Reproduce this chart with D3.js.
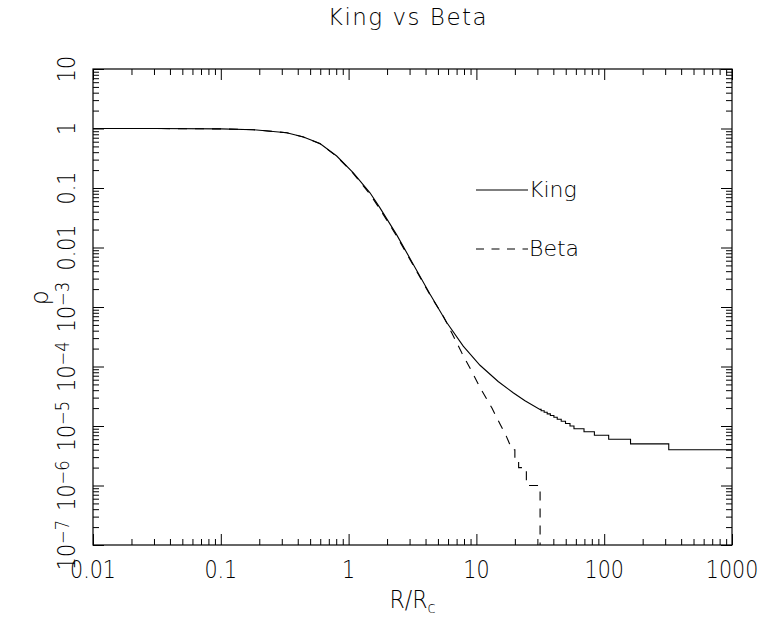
<!DOCTYPE html>
<html>
<head>
<meta charset="utf-8">
<script src="https://cdn.jsdelivr.net/npm/d3@7"></script>
<style>
  html, body { margin: 0; padding: 0; background: #fff; }
  svg { display: block; }
  text { font-family: "DejaVu Sans", sans-serif; font-weight: 200; fill: #000; }
</style>
</head>
<body>
<svg id="chart" width="765" height="621"></svg>
<script>
// ---------------- data ----------------
const titleText = "King vs Beta";
const xMajorTicks = [0.01, 0.1, 1, 10, 100, 1000];
const xTickLabels = ["0.01", "0.1", "1", "10", "100", "1000"];
const yMajorTicks = [1e-7, 1e-6, 1e-5, 1e-4, 1e-3, 0.01, 0.1, 1, 10];
const yTickBase = ["10", "10", "10", "10", "10", "0.01", "0.1", "1", "10"];
const yTickExp  = ["\u22127", "\u22126", "\u22125", "\u22124", "\u22123", "", "", "", ""];
const seriesNames = ["King", "Beta"];

// King profile: smooth part
const kingR   = [0.01, 0.03, 0.1, 0.18, 0.328, 0.443, 0.597, 0.807, 1.089, 1.47, 1.76, 2.38, 3.21, 4.33, 5.86, 7.89, 10.67, 14.8, 19.4, 24.0];
const kingRho = [1.0, 0.999, 0.985, 0.955, 0.85, 0.72, 0.56, 0.345, 0.18, 0.083, 0.0463, 0.0163, 5.2e-3, 1.65e-3, 5.5e-4, 2.2e-4, 1.05e-4, 5.6e-5, 3.63e-5, 2.66e-5];
// King profile: stepped (quantised) tail, each level holds until the next R
const kingTailR   = [31.4, 32.1, 33.9, 35.8, 37.9, 40.4, 42.9, 46.1, 49.8, 54.0, 58.0, 69.5, 83.8, 108.4, 160.7, 320, 1000];
const kingTailRho = [1.9e-5, 1.8e-5, 1.7e-5, 1.6e-5, 1.5e-5, 1.4e-5, 1.3e-5, 1.2e-5, 1.1e-5, 1.0e-5, 9e-6, 8e-6, 7e-6, 6e-6, 5e-6, 4e-6, 4e-6];

// Beta model: smooth part
const betaR   = [0.01, 0.03, 0.1, 0.18, 0.328, 0.443, 0.597, 0.807, 1.089, 1.47, 1.76, 2.38, 3.21, 4.33, 5.51, 6.41, 7.68, 9.19, 10.7, 13.2, 15.3, 17.0, 18.2];
const betaRho = [1.0, 0.999, 0.985, 0.955, 0.85, 0.72, 0.555, 0.34, 0.175, 0.079, 0.044, 0.0155, 5.0e-3, 1.6e-3, 7.0e-4, 3.68e-4, 1.70e-4, 8.3e-5, 4.4e-5, 2.02e-5, 1.08e-5, 7e-6, 5e-6];
// Beta model: stepped tail, final value 0 (drops off the plot)
const betaTailR   = [18.9, 20.0, 21.4, 24.6, 31.5];
const betaTailRho = [4e-6, 3e-6, 2e-6, 1e-6, 0];

// ---------------- layout ----------------
const svg = d3.select("#chart");
const L = 93, R = 732, T = 69, B = 545;
const majorLen = 11, minorLen = 6;
const sx = 0.86; // horizontal squeeze to mimic the tall plotter font

const x = d3.scaleLog().domain([0.01, 1000]).range([L, R]);
const y = d3.scaleLog().domain([1e-7, 10]).range([B, T]);

const xMinor = x.ticks().filter(v => !xMajorTicks.some(m => Math.abs(m - v) / m < 1e-6));
const yMinor = y.ticks().filter(v => !yMajorTicks.some(m => Math.abs(m - v) / m < 1e-6));

function addAxis(axisGen, transform) {
  const g = svg.append("g").attr("transform", transform).call(axisGen);
  g.select(".domain").remove();
  g.selectAll("text").remove();
  g.selectAll("line").attr("stroke", "#000").attr("stroke-width", 1);
  return g;
}
addAxis(d3.axisBottom(x).tickValues(xMajorTicks).tickSize(-majorLen).tickFormat(""), `translate(0,${B})`);
addAxis(d3.axisBottom(x).tickValues(xMinor).tickSize(-minorLen).tickFormat(""), `translate(0,${B})`);
addAxis(d3.axisTop(x).tickValues(xMajorTicks).tickSize(-majorLen).tickFormat(""), `translate(0,${T})`);
addAxis(d3.axisTop(x).tickValues(xMinor).tickSize(-minorLen).tickFormat(""), `translate(0,${T})`);
addAxis(d3.axisLeft(y).tickValues(yMajorTicks).tickSize(-majorLen).tickFormat(""), `translate(${L},0)`);
addAxis(d3.axisLeft(y).tickValues(yMinor).tickSize(-minorLen).tickFormat(""), `translate(${L},0)`);
addAxis(d3.axisRight(y).tickValues(yMajorTicks).tickSize(-majorLen).tickFormat(""), `translate(${R},0)`);
addAxis(d3.axisRight(y).tickValues(yMinor).tickSize(-minorLen).tickFormat(""), `translate(${R},0)`);

// frame
svg.append("rect").attr("x", L).attr("y", T).attr("width", R - L).attr("height", B - T)
  .attr("fill", "none").attr("stroke", "#000").attr("stroke-width", 1.2);

// x tick labels
svg.append("g").selectAll("text").data(xMajorTicks).join("text")
  .attr("transform", d => `translate(${x(d)},578) scale(${sx},1)`)
  .attr("text-anchor", "middle").attr("font-size", 24)
  .text((d, i) => xTickLabels[i]);

// y tick labels (rotated, reading upwards)
const yl = svg.append("g").selectAll("text").data(yMajorTicks).join("text")
  .attr("text-anchor", "middle").attr("font-size", 24)
  .attr("transform", d => `translate(75,${y(d)}) rotate(-90) scale(${sx},1)`);
yl.each(function(d, i) {
  const t = d3.select(this);
  t.append("tspan").text(yTickBase[i]);
  if (yTickExp[i]) t.append("tspan").attr("font-size", 19).attr("dy", -6).text(yTickExp[i]);
});

// title
svg.append("text").attr("x", 408).attr("y", 25).attr("text-anchor", "middle")
  .attr("font-size", 23).attr("letter-spacing", 1.5).text(titleText);

// x axis label R/R_c
const xl = svg.append("text").attr("transform", `translate(${(L + R) / 2},608) scale(0.92,1)`)
  .attr("text-anchor", "middle").attr("font-size", 24);
xl.append("tspan").text("R/R");
xl.append("tspan").attr("font-size", 16).attr("dy", 5).text("c");

// y axis label rho
svg.append("text").attr("transform", `translate(48,298) rotate(-90)`)
  .attr("text-anchor", "middle").attr("font-size", 24).text("\u03c1");

// ---------------- curves ----------------
svg.append("clipPath").attr("id", "plotclip").append("rect")
  .attr("x", L).attr("y", T).attr("width", R - L).attr("height", B - T);

function buildPoints(rs, vals, tailR, tailV) {
  const pts = rs.map((r, i) => [r, vals[i]]);
  for (let i = 0; i < tailR.length; i++) {
    pts.push([tailR[i], tailV[i]]);
    if (i + 1 < tailR.length) pts.push([tailR[i + 1], tailV[i]]);
  }
  return pts;
}
const line = d3.line()
  .x(d => x(d[0]))
  .y(d => d[1] > 0 ? y(d[1]) : B + 30);

const kingPts = buildPoints(kingR, kingRho, kingTailR, kingTailRho);
const betaPts = buildPoints(betaR, betaRho, betaTailR, betaTailRho);

const plot = svg.append("g").attr("clip-path", "url(#plotclip)");
plot.append("path").datum(kingPts).attr("d", line)
  .attr("fill", "none").attr("stroke", "#000").attr("stroke-width", 1.1);
plot.append("path").datum(betaPts).attr("d", line)
  .attr("fill", "none").attr("stroke", "#000").attr("stroke-width", 1.1)
  .attr("stroke-dasharray", "9,8");

// ---------------- legend ----------------
const legY = [190, 249];
const legend = svg.append("g");
seriesNames.forEach((name, i) => {
  legend.append("line").attr("x1", 476).attr("x2", 528).attr("y1", legY[i]).attr("y2", legY[i])
    .attr("stroke", "#000").attr("stroke-width", 1.1)
    .attr("stroke-dasharray", i === 1 ? "8,7.5" : null);
  legend.append("text").attr("x", 529).attr("y", legY[i] + 7).attr("font-size", 22).text(name);
});
</script>
</body>
</html>
